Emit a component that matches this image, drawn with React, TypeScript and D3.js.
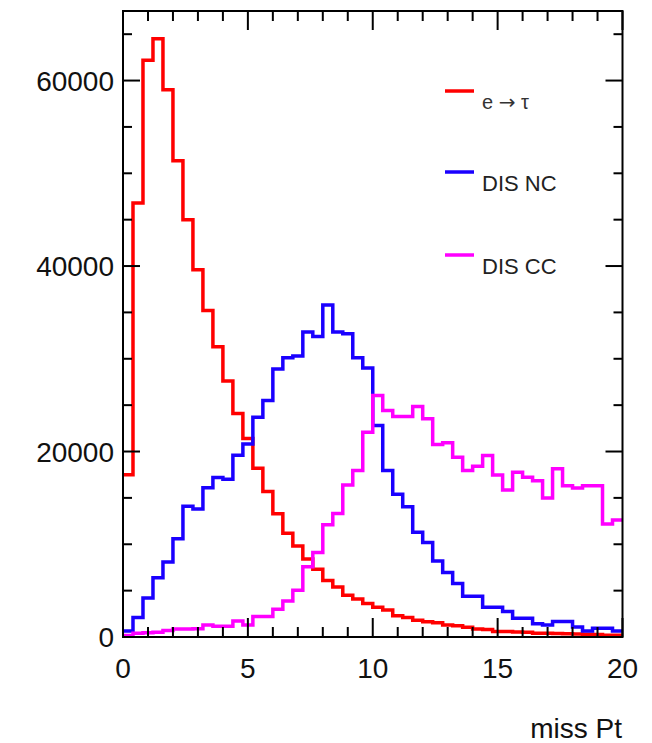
import React from 'react';
import * as d3 from 'd3';

// 50 bins of width 0.4 on [0, 20]
const binEdges = d3.range(0, 20.0001, 0.4);

const eTau = [
  17500, 46800, 62200, 64500, 59000, 51350, 45000, 39600, 35200, 31300,
  27600, 24100, 21400, 18200, 15700, 13300, 11200, 9800, 8400, 7300,
  6100, 5400, 4500, 4100, 3600, 3200, 2900, 2300, 2100, 1800,
  1650, 1550, 1300, 1200, 1050, 850, 800, 600, 580, 550,
  500, 400, 400, 380, 350, 330, 300, 280, 200, 200,
];

const disNC = [
  650, 2100, 4200, 6400, 8100, 10600, 14100, 13800, 16100, 17200,
  17000, 19600, 20800, 23700, 25500, 28900, 30100, 30300, 32900, 32400,
  35800, 32900, 32700, 30100, 29000, 22800, 17950, 15400, 14050, 11300,
  10200, 8200, 6950, 5760, 4400, 4400, 3200, 3200, 2740, 2020,
  2020, 1440, 1300, 1660, 1660, 1080, 650, 940, 940, 650,
];

const disCC = [
  150, 400, 450, 500, 700, 850, 850, 900, 1300, 1150,
  1150, 1730, 1300, 2200, 2200, 3000, 3890, 5050, 7570, 9120,
  12100, 13330, 16400, 17950, 22090, 26050, 24430, 23780, 23780, 24860,
  23530, 20760, 20940, 19390, 17950, 18400, 19570, 17480, 15860, 17770,
  17230, 16860, 14990, 18130, 16320, 16070, 16320, 16320, 12180, 12610,
];

const series = [
  { name: 'e \u2192 \u03c4', values: eTau, color: '#ff0000' },
  { name: 'DIS NC', values: disNC, color: '#1a00ff' },
  { name: 'DIS CC', values: disCC, color: '#ff00ff' },
];

const xTicks = [0, 5, 10, 15, 20];
const yTicks = [0, 20000, 40000, 60000];

const W = 652;
const H = 743;
const left = 123;
const right = 622.5;
const top = 11;
const bottom = 637;

export default function App() {
  const x = d3.scaleLinear().domain([0, 20]).range([left, right]);
  const y = d3.scaleLinear().domain([0, 67500]).range([bottom, top]);

  const line = d3
    .line<[number, number]>()
    .x(d => x(d[0]))
    .y(d => y(d[1]))
    .curve(d3.curveStepAfter);

  const pathFor = (vals: number[]) => {
    const pts: [number, number][] = vals.map((v, i) => [binEdges[i], v]);
    pts.push([binEdges[vals.length], vals[vals.length - 1]]);
    return line(pts) || '';
  };

  const xMinor = d3.range(0, 20.001, 1);
  const yMinor = d3.range(0, 67500, 5000);
  const font = 'Liberation Sans, Arial, Helvetica, sans-serif';

  return (
    <svg
      width={W}
      height={H}
      style={{ position: 'absolute', left: 0, top: 0, background: '#fff' }}
      fontFamily={font}
    >
      <rect x={0} y={0} width={W} height={H} fill="#fff" />

      {series.map(s => (
        <path
          key={s.name}
          d={pathFor(s.values)}
          fill="none"
          stroke={s.color}
          strokeWidth={3.5}
        />
      ))}

      {/* frame */}
      <rect
        x={left}
        y={top}
        width={right - left}
        height={bottom - top}
        fill="none"
        stroke="#000"
        strokeWidth={2}
      />

      {/* x ticks, bottom and top */}
      {xMinor.map(t => {
        const major = t % 5 === 0;
        const len = major ? 19 : 10;
        return (
          <g key={'xt' + t} stroke="#000" strokeWidth={2}>
            <line x1={x(t)} x2={x(t)} y1={bottom} y2={bottom - len} />
            <line x1={x(t)} x2={x(t)} y1={top} y2={top + len} />
          </g>
        );
      })}

      {/* y ticks, left and right */}
      {yMinor.map(t => {
        const major = t % 20000 === 0;
        const len = major ? 17 : 9;
        return (
          <g key={'yt' + t} stroke="#000" strokeWidth={2}>
            <line x1={left} x2={left + len} y1={y(t)} y2={y(t)} />
            <line x1={right} x2={right - len} y1={y(t)} y2={y(t)} />
          </g>
        );
      })}

      {xTicks.map(t => (
        <text key={'xl' + t} x={x(t)} y={678} fontSize={28} textAnchor="middle" fill="#111">
          {t}
        </text>
      ))}

      {yTicks.map(t => (
        <text key={'yl' + t} x={114} y={y(t) + 10} fontSize={28} textAnchor="end" fill="#111">
          {t}
        </text>
      ))}

      <text x={622} y={738} fontSize={28} textAnchor="end" fill="#111">
        miss Pt
      </text>

      {/* legend */}
      {series.map((s, i) => {
        const ly = [91, 172, 255][i];
        return (
          <g key={'lg' + s.name}>
            <line x1={445} x2={474} y1={ly} y2={ly} stroke={s.color} strokeWidth={3.5} />
            {i === 0 ? (
              <text x={482} y={ly + 18} fontSize={20} fill="#333">
                e{' '}
                <tspan fontFamily="DejaVu Sans" fontSize={20}>
                  {'\u2192'}
                </tspan>{' '}
                {'\u03c4'}
              </text>
            ) : (
              <text x={482} y={ly + 19} fontSize={22} fill="#222">
                {s.name}
              </text>
            )}
          </g>
        );
      })}
    </svg>
  );
}
